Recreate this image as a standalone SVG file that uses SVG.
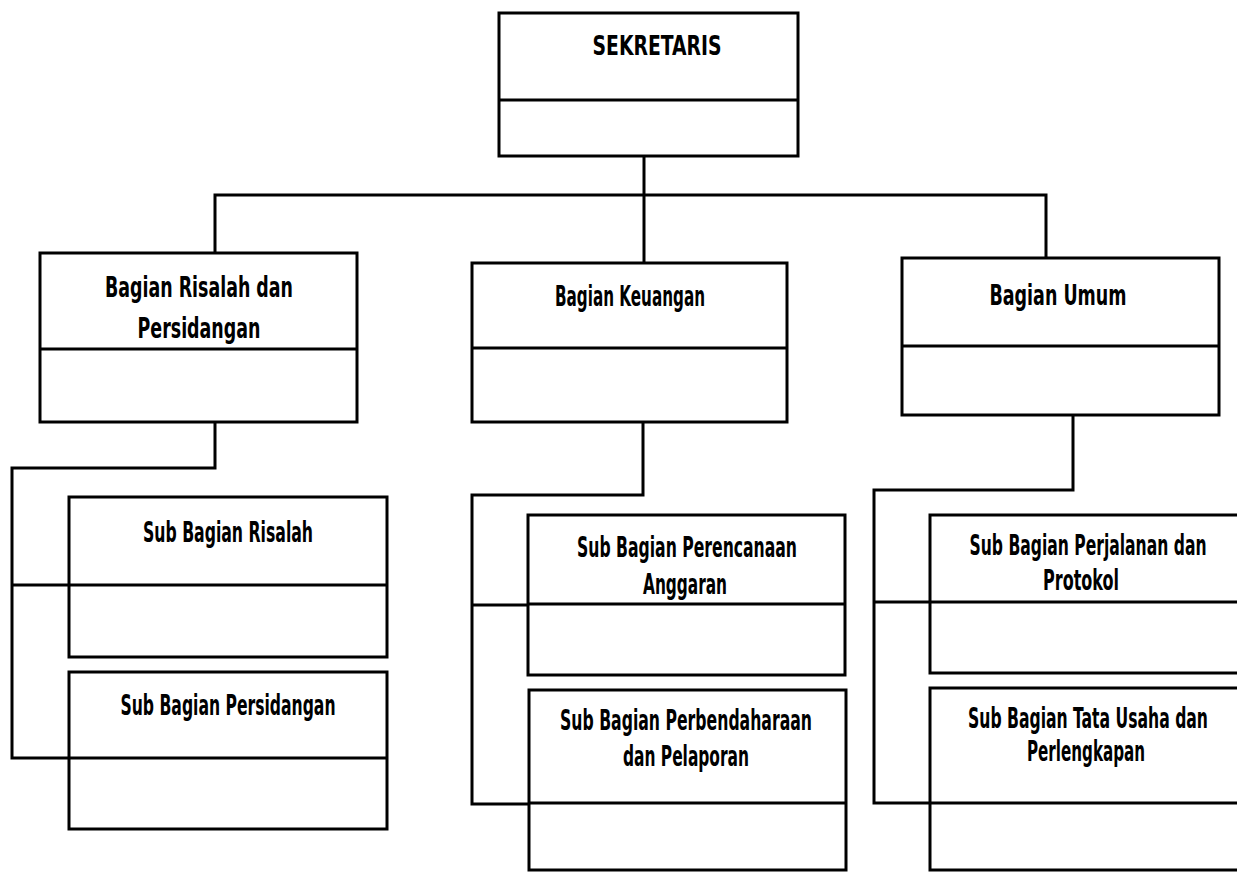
<svg xmlns="http://www.w3.org/2000/svg" width="1237" height="873" viewBox="0 0 1237 873">
<style>
.box{fill:#fff;stroke:#000;stroke-width:3}
.div{stroke:#000;stroke-width:3}
.con{fill:none;stroke:#000;stroke-width:3;stroke-linejoin:miter}
.t{font-family:"Liberation Sans Narrow","DejaVu Sans Condensed","Liberation Sans",sans-serif;font-weight:bold;font-size:28px;fill:#000;text-anchor:middle}
.h{font-size:27px}
</style>
<rect width="1237" height="873" fill="#fff"/>
<g id="connectors">
<path class="con" d="M644,156 V263"/>
<path class="con" d="M215,253 V195 H1046 V258"/>
<path class="con" d="M215,422 V468 H12 V758 H69"/>
<path class="con" d="M12,585 H69"/>
<path class="con" d="M643,422 V495 H472 V804 H529"/>
<path class="con" d="M472,605 H528"/>
<path class="con" d="M1073,415 V490 H874 V803 H930"/>
<path class="con" d="M874,602 H930"/>
</g>
<g id="sekretaris">
<rect class="box" x="499" y="13" width="299" height="143"/>
<line class="div" x1="499" y1="100" x2="798" y2="100"/>
<text class="t h" x="657" y="55" textLength="129" lengthAdjust="spacingAndGlyphs">SEKRETARIS</text>
</g>
<g id="bagian-risalah">
<rect class="box" x="40" y="253" width="317" height="169"/>
<line class="div" x1="40" y1="349" x2="357" y2="349"/>
<text class="t" x="199" y="297" textLength="188" lengthAdjust="spacingAndGlyphs">Bagian Risalah dan</text>
<text class="t" x="199" y="338" textLength="123" lengthAdjust="spacingAndGlyphs">Persidangan</text>
</g>
<g id="bagian-keuangan">
<rect class="box" x="472" y="263" width="315" height="159"/>
<line class="div" x1="472" y1="348" x2="787" y2="348"/>
<text class="t" x="630" y="306" textLength="150" lengthAdjust="spacingAndGlyphs">Bagian Keuangan</text>
</g>
<g id="bagian-umum">
<rect class="box" x="902" y="258" width="317" height="157"/>
<line class="div" x1="902" y1="346" x2="1219" y2="346"/>
<text class="t" x="1058" y="305" textLength="137" lengthAdjust="spacingAndGlyphs">Bagian Umum</text>
</g>
<g id="sub-risalah">
<rect class="box" x="69" y="497" width="318" height="160"/>
<line class="div" x1="69" y1="585" x2="387" y2="585"/>
<text class="t" x="228" y="542" textLength="170" lengthAdjust="spacingAndGlyphs">Sub Bagian Risalah</text>
</g>
<g id="sub-persidangan">
<rect class="box" x="69" y="672" width="318" height="157"/>
<line class="div" x1="69" y1="758" x2="387" y2="758"/>
<text class="t" x="228" y="715" textLength="215" lengthAdjust="spacingAndGlyphs">Sub Bagian Persidangan</text>
</g>
<g id="sub-perencanaan">
<rect class="box" x="528" y="515" width="317" height="160"/>
<line class="div" x1="528" y1="604" x2="845" y2="604"/>
<text class="t" x="687" y="557" textLength="220" lengthAdjust="spacingAndGlyphs">Sub Bagian Perencanaan</text>
<text class="t" x="685" y="594" textLength="84" lengthAdjust="spacingAndGlyphs">Anggaran</text>
</g>
<g id="sub-perbendaharaan">
<rect class="box" x="529" y="690" width="317" height="180"/>
<line class="div" x1="529" y1="803" x2="846" y2="803"/>
<text class="t" x="686" y="730" textLength="252" lengthAdjust="spacingAndGlyphs">Sub Bagian Perbendaharaan</text>
<text class="t" x="686" y="766" textLength="126" lengthAdjust="spacingAndGlyphs">dan Pelaporan</text>
</g>
<g id="sub-perjalanan">
<rect class="box" x="930" y="515" width="320" height="158"/>
<line class="div" x1="930" y1="602" x2="1250" y2="602"/>
<text class="t" x="1088" y="555" textLength="237" lengthAdjust="spacingAndGlyphs">Sub Bagian Perjalanan dan</text>
<text class="t" x="1081" y="590" textLength="76" lengthAdjust="spacingAndGlyphs">Protokol</text>
</g>
<g id="sub-tata-usaha">
<rect class="box" x="930" y="688" width="320" height="182"/>
<line class="div" x1="930" y1="803" x2="1250" y2="803"/>
<text class="t" x="1088" y="728" textLength="240" lengthAdjust="spacingAndGlyphs">Sub Bagian Tata Usaha dan</text>
<text class="t" x="1086" y="761" textLength="118" lengthAdjust="spacingAndGlyphs">Perlengkapan</text>
</g>
</svg>
